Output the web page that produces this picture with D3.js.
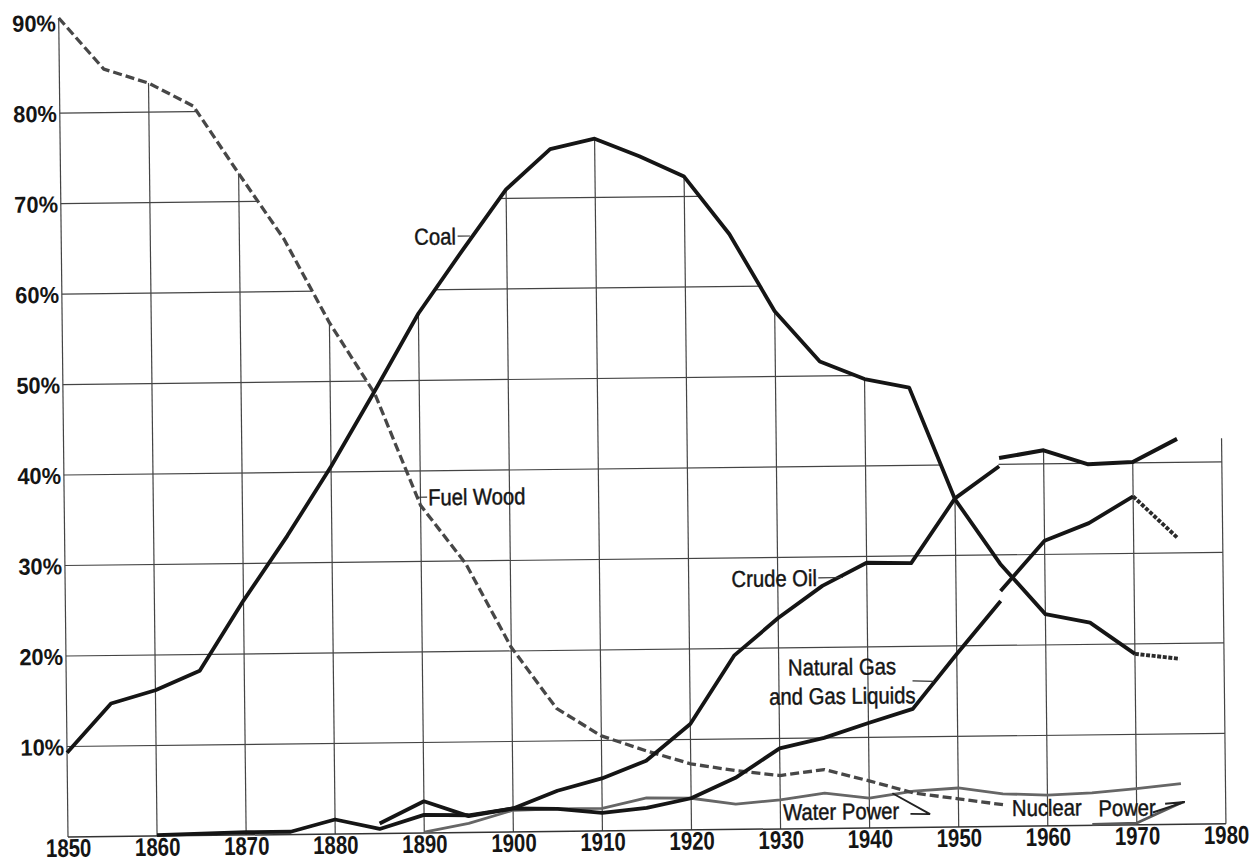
<!DOCTYPE html>
<html>
<head>
<meta charset="utf-8">
<script src="https://cdn.jsdelivr.net/npm/d3@7"></script>
<style>
html,body{margin:0;padding:0;background:#fff;}
svg{display:block;}
</style>
</head>
<body>
<svg id="chart" width="1252" height="862"></svg>
<script>
// ---------- data (share of U.S. energy consumption, %) ----------
const tickYears = [1850,1860,1870,1880,1890,1900,1910,1920,1930,1940,1950,1960,1970,1980];
const tickPercents = [10,20,30,40,50,60,70,80,90];
const tickPercentLabels = ["10%","20%","30%","40%","50%","60%","70%","80%","90%"];

const seriesNames = ["Coal","Fuel Wood","Crude Oil","Natural Gas","and Gas Liquids","Water Power","Nuclear","Power"];

const fuelWoodYears  = [1850,1855,1860,1865,1870,1875,1880,1885,1890,1895,1900,1905,1910,1915,1920,1925,1930,1935,1940,1945,1950,1955];
const fuelWoodValues = [90.5,84.8,83.2,80.6,73.1,65.8,56.5,48.6,36.2,29.7,20.4,13.6,10.5,8.8,7.3,6.5,5.9,6.5,5.2,3.8,3.1,2.4];

const coalYears  = [1850,1855,1860,1865,1870,1875,1880,1885,1890,1895,1900,1905,1910,1915,1920,1925,1930,1935,1940,1945,1950,1955,1960,1965,1970,1975];
const coalValues = [9.3,14.7,16.1,18.2,25.9,33.0,40.6,48.9,57.4,64.3,71.0,75.4,76.5,74.5,72.2,65.8,57.2,51.6,49.6,48.6,36.2,29.0,23.4,22.4,18.9,18.3];

const crudeOilYearsA  = [1860,1865,1870,1875,1880,1885,1890,1895,1900,1905,1910,1915,1920,1925,1930,1935,1940,1945,1950,1955];
const crudeOilValuesA = [0.1,0.2,0.3,0.3,1.6,0.5,2.0,1.9,2.6,4.5,5.8,7.7,11.7,19.2,23.3,26.8,29.3,29.2,36.3,39.8];
const crudeOilYearsB  = [1955,1960,1965,1970,1975];
const crudeOilValuesB = [40.7,41.5,39.9,40.1,42.6];

const gasYearsA  = [1885,1890,1895,1900,1905,1910,1915,1920,1925,1930,1935,1940,1945,1950,1955];
const gasValuesA = [1.1,3.5,1.8,2.6,2.5,2.0,2.5,3.5,5.7,8.9,10.0,11.6,13.1,19.1,24.9];
const gasYearsB  = [1955,1960,1965,1970,1975];
const gasValuesB = [26.0,31.5,33.4,36.3,31.6];

const waterYears  = [1890,1895,1900,1905,1910,1915,1920,1925,1930,1935,1940,1945,1950,1955,1960,1965,1970,1975];
const waterValues = [0.1,1.0,2.4,2.5,2.5,3.6,3.5,2.8,3.2,3.9,3.3,4.0,4.3,3.6,3.4,3.6,4.0,4.5];

const nuclearYears  = [1965,1970,1975];
const nuclearValues = [0.1,0.2,2.4];

// ---------- layout ----------
const svg = d3.select("#chart");
svg.append("rect").attr("width",1252).attr("height",862).attr("fill","#fff");

const FONT = "'Liberation Sans', Arial, Helvetica, sans-serif";
const INK = "#151515";

// the printed chart sits slightly rotated on the page
const g = svg.append("g").attr("transform","translate(68,837) rotate(-0.65)");

const x = d3.scaleLinear().domain([1850,1980]).range([0,1158]);
const y = d3.scaleLinear().domain([0,90]).range([0,-814.5]);

const pts = (ys, vs) => ys.map((yr,i)=>[yr, vs[i]]);
const line = d3.line().x(d=>x(d[0])).y(d=>y(d[1]));

const allSeries = [
  [fuelWoodYears,fuelWoodValues],[coalYears,coalValues],
  [crudeOilYearsA,crudeOilValuesA],[crudeOilYearsB,crudeOilValuesB],
  [gasYearsA,gasValuesA],[gasYearsB,gasValuesB],
  [waterYears,waterValues],[nuclearYears,nuclearValues]
];
function interp(ys, vs, t){
  if(t < ys[0] || t > ys[ys.length-1]) return -Infinity;
  let i = d3.bisectRight(ys, t) - 1;
  if(i >= ys.length-1) return vs[vs.length-1];
  const f = (t - ys[i])/(ys[i+1]-ys[i]);
  return vs[i] + f*(vs[i+1]-vs[i]);
}
function envelope(t){
  const tt = Math.min(t, 1975);
  return d3.max(allSeries, s => interp(s[0], s[1], tt));
}

// clip region: area under the upper envelope of all curves
const samples = d3.range(1850, 1980.001, 0.1).map(t => [t, envelope(t)]);
const clipPts = [[x(1850)-3, y(0)+3], [x(1850)-3, y(samples[0][1])]]
  .concat(samples.map(d => [x(d[0]), y(d[1])]))
  .concat([[x(1980)+3, y(samples[samples.length-1][1])], [x(1980)+3, y(0)+3]]);
svg.append("defs").append("clipPath").attr("id","under")
  .append("path").attr("d", "M" + clipPts.map(p=>p.join(",")).join("L") + "Z");

// grid
const grid = g.append("g").attr("clip-path","url(#under)")
  .attr("stroke","#444").attr("stroke-width",1.2).attr("fill","none");
grid.selectAll("line.v").data(tickYears).enter().append("line")
  .attr("x1",d=>x(d)).attr("x2",d=>x(d)).attr("y1",y(0)).attr("y2",y(92));
grid.selectAll("line.h").data(tickPercents.filter(p=>p<90)).enter().append("line")
  .attr("x1",x(1850)).attr("x2",x(1980)).attr("y1",d=>y(d)).attr("y2",d=>y(d));
g.append("line").attr("x1",x(1850)).attr("x2",x(1980)).attr("y1",y(0)).attr("y2",y(0))
  .attr("stroke","#333").attr("stroke-width",1.5);

// curves
function draw(data, color, width, dash){
  const p = g.append("path").datum(data).attr("d",line).attr("fill","none")
    .attr("stroke",color).attr("stroke-width",width)
    .attr("stroke-linejoin","round").attr("stroke-linecap","butt");
  if(dash) p.attr("stroke-dasharray",dash);
  return p;
}
draw(pts(waterYears,waterValues), "#666", 2.8);
draw(pts(nuclearYears,nuclearValues), "#595959", 2.8);
draw(pts(fuelWoodYears,fuelWoodValues), "#474747", 3.3, "9,4");

const gasA = pts(gasYearsA,gasValuesA), gasB = pts(gasYearsB,gasValuesB);
draw(gasA, INK, 3.8);
draw(gasB.slice(0,-1), INK, 3.8);
draw(gasB.slice(-2), "#2a2a2a", 3.9, "4,1.6");

draw(pts(crudeOilYearsA,crudeOilValuesA), INK, 3.8);
draw(pts(crudeOilYearsB,crudeOilValuesB), INK, 4.0);

const coal = pts(coalYears,coalValues);
draw(coal.slice(0,-1), INK, 3.8);
draw(coal.slice(-2), "#2a2a2a", 3.9, "4,1.6");

// labels and leaders
const SX = 0.88;
function label(txt, yr, v, anchor){
  g.append("text").text(txt)
    .attr("transform",`translate(${x(yr)},${y(v)+8.2}) scale(${SX},1)`)
    .attr("text-anchor",anchor).attr("fill",INK)
    .attr("stroke",INK).attr("stroke-width",0.45)
    .style("font-family",FONT).style("font-size","23px");
}
function leader(list){
  g.append("path").datum(list).attr("d",line).attr("fill","none")
    .attr("stroke","#333").attr("stroke-width",1.2);
}
label(seriesNames[0], 1894.3, 65.9, "end");
leader([[1894.5,65.9],[1895.9,65.9]]);
label(seriesNames[1], 1890.85, 37.1, "start");
leader([[1889.7,37.1],[1890.75,37.1]]);
label(seriesNames[2], 1934.4, 27.7, "end");
leader([[1934.55,27.7],[1937.3,27.7]]);
label(seriesNames[3], 1937.1, 17.85, "middle");
label(seriesNames[4], 1937.1, 14.64, "middle");
leader([[1945.0,16.2],[1947.4,16.1]]);
label(seriesNames[5], 1930.3, 1.87, "start");
g.append("path").datum([[1942.6,3.8],[1946.8,1.45],[1944.6,1.5]]).attr("d",line)
  .attr("fill","none").attr("stroke","#222").attr("stroke-width",1.9);
label(seriesNames[6], 1956.0, 2.03, "start");
label(seriesNames[7], 1965.7, 1.92, "start");
g.append("path").datum([[1971.8,1.35],[1975.4,2.47],[1973.2,2.3]]).attr("d",line)
  .attr("fill","none").attr("stroke","#222").attr("stroke-width",1.9);

// axes (tick labels only)
const gx = g.append("g").call(d3.axisBottom(x).tickValues(tickYears).tickFormat(d=>String(d)).tickSize(0).tickPadding(0));
gx.select(".domain").remove();
gx.selectAll("text").attr("y",19.8).attr("dy",null).attr("transform","scale(0.8,1)")
  .attr("fill",INK).style("font-family",FONT).style("font-size","25.5px").style("font-weight","bold");

const gy = g.append("g").call(d3.axisLeft(y).tickValues(tickPercents).tickFormat((d,i)=>tickPercentLabels[i]).tickSize(0).tickPadding(0));
gy.select(".domain").remove();
gy.selectAll("text").attr("x",-3).attr("dy",null).attr("y",8.2).attr("transform","scale(0.95,1)")
  .attr("fill",INK).style("font-family",FONT).style("font-size","23px").style("font-weight","bold");
</script>
</body>
</html>
